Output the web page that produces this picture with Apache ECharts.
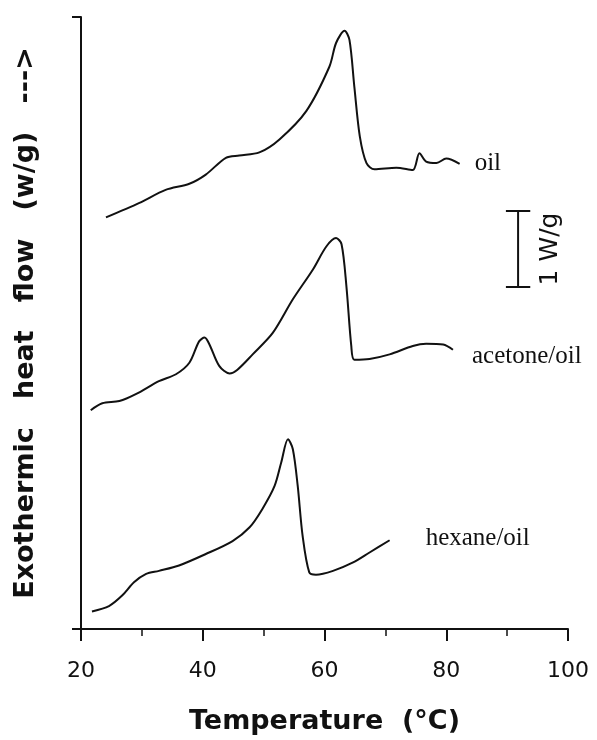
<!DOCTYPE html>
<html>
<head>
<meta charset="utf-8">
<title>DSC curves</title>
<script src="https://cdn.jsdelivr.net/npm/echarts@6/dist/echarts.min.js"></script>
<style>
  html, body { margin: 0; padding: 0; background: #fff; }
  #chart { width: 597px; height: 740px; }
</style>
</head>
<body>
<div id="chart"></div>
<script>
// temperature (°C) and offset heat flow (W/g)
var oilT = [24.1, 29.6, 33.9, 37.8, 40.5, 43.8, 46.0, 49.3, 52.6, 57.0, 60.8, 61.9, 63.3, 64.1, 64.9, 65.8, 66.9, 68.2, 71.8, 74.5, 75.6, 76.7, 78.4, 80.0, 82.2]
var oilY = [5.38, 5.57, 5.74, 5.82, 5.94, 6.16, 6.19, 6.23, 6.40, 6.77, 7.35, 7.66, 7.82, 7.70, 7.09, 6.44, 6.09, 6.01, 6.03, 6.00, 6.22, 6.11, 6.09, 6.15, 6.08]

var acetoneT = [21.6, 23.5, 26.3, 29.0, 32.8, 35.6, 37.8, 39.4, 40.3, 41.1, 42.7, 44.4, 45.7, 48.2, 51.5, 54.8, 58.1, 60.3, 61.9, 62.8, 63.6, 64.4, 64.9, 67.4, 70.7, 74.5, 76.7, 79.5, 81.1]
var acetoneY = [2.86, 2.95, 2.98, 3.07, 3.24, 3.33, 3.48, 3.76, 3.81, 3.72, 3.44, 3.34, 3.39, 3.59, 3.87, 4.31, 4.70, 5.00, 5.11, 5.03, 4.48, 3.70, 3.52, 3.53, 3.59, 3.70, 3.73, 3.72, 3.65]

var hexaneT = [21.8, 24.6, 26.8, 28.7, 30.7, 32.8, 36.1, 40.5, 44.9, 47.7, 49.8, 51.8, 52.9, 54.0, 54.8, 55.6, 56.4, 57.5, 58.6, 61.4, 64.7, 67.4, 70.7]
var hexaneY = [0.23, 0.30, 0.44, 0.61, 0.72, 0.76, 0.83, 0.98, 1.15, 1.33, 1.57, 1.87, 2.18, 2.48, 2.35, 1.87, 1.22, 0.74, 0.71, 0.76, 0.87, 1.00, 1.16]

// 1 W/g scale bar
var scaleT = 91.8
var scaleLow = 4.47
var scaleHigh = 5.47

var xTicks = [20, 40, 60, 80, 100]

function pairs(xs, ys) {
  return xs.map(function(x, i) { return [x, ys[i]] })
}

var black = '#111'
var chart = echarts.init(document.getElementById('chart'), null, { renderer: 'canvas' })

function curve(name, xs, ys, label) {
  return {
    name: name,
    type: 'line',
    data: pairs(xs, ys),
    smooth: 0.3,
    showSymbol: false,
    lineStyle: { color: black, width: 2 },
    endLabel: {
      show: true,
      formatter: '{a}',
      color: black,
      fontFamily: 'Liberation Serif',
      fontSize: 25,
      distance: label.distance,
      offset: label.offset
    }
  }
}

chart.setOption({
  animation: false,
  backgroundColor: '#fff',
  grid: { left: 81, right: 29, top: 17, bottom: 110 },
  xAxis: {
    type: 'value',
    min: xTicks[0],
    max: xTicks[xTicks.length - 1],
    interval: 20,
    name: 'Temperature  (°C)',
    nameLocation: 'middle',
    nameGap: 79,
    nameTextStyle: { color: black, fontFamily: 'DejaVu Sans', fontWeight: 'bold', fontSize: 27 },
    axisLine: { lineStyle: { color: black, width: 2 } },
    axisTick: { length: 12, lineStyle: { color: black, width: 2 } },
    minorTick: { show: true, splitNumber: 2, length: 7, lineStyle: { color: black, width: 1.5 } },
    splitLine: { show: false },
    axisLabel: { color: black, fontFamily: 'DejaVu Sans', fontSize: 22, margin: 31 }
  },
  yAxis: {
    type: 'value',
    min: 0,
    max: 8,
    interval: 8,
    name: 'Exothermic   heat   flow   (w/g)   --->',
    nameLocation: 'middle',
    nameGap: 42,
    nameTextStyle: { color: black, fontFamily: 'DejaVu Sans', fontWeight: 'bold', fontSize: 27 },
    axisLine: { show: true, lineStyle: { color: black, width: 2 } },
    axisTick: { show: true, length: 9, lineStyle: { color: black, width: 2 } },
    axisLabel: { show: false },
    splitLine: { show: false }
  },
  graphic: [{
    type: 'text',
    x: 550,
    y: 249,
    rotation: Math.PI / 2,
    style: {
      text: '1 W/g',
      fill: black,
      font: '25px "DejaVu Sans"',
      align: 'center',
      verticalAlign: 'middle'
    }
  }],
  series: [
    curve('oil', oilT, oilY, { distance: 15, offset: [0, 0] }),
    curve('acetone/oil', acetoneT, acetoneY, { distance: 19, offset: [0, 7] }),
    curve('hexane/oil', hexaneT, hexaneY, { distance: 36, offset: [0, -2] }),
    {
      name: 'scale',
      type: 'line',
      data: [[scaleT, scaleLow], [scaleT, scaleHigh]],
      showSymbol: false,
      lineStyle: { color: black, width: 2 },
      markLine: {
        silent: true,
        symbol: ['none', 'none'],
        label: { show: false },
        lineStyle: { color: black, width: 2, type: 'solid' },
        data: [
          [{ coord: [scaleT - 2, scaleLow] }, { coord: [scaleT + 2, scaleLow] }],
          [{ coord: [scaleT - 2, scaleHigh] }, { coord: [scaleT + 2, scaleHigh] }]
        ]
      }
    }
  ]
})
</script>
</body>
</html>
